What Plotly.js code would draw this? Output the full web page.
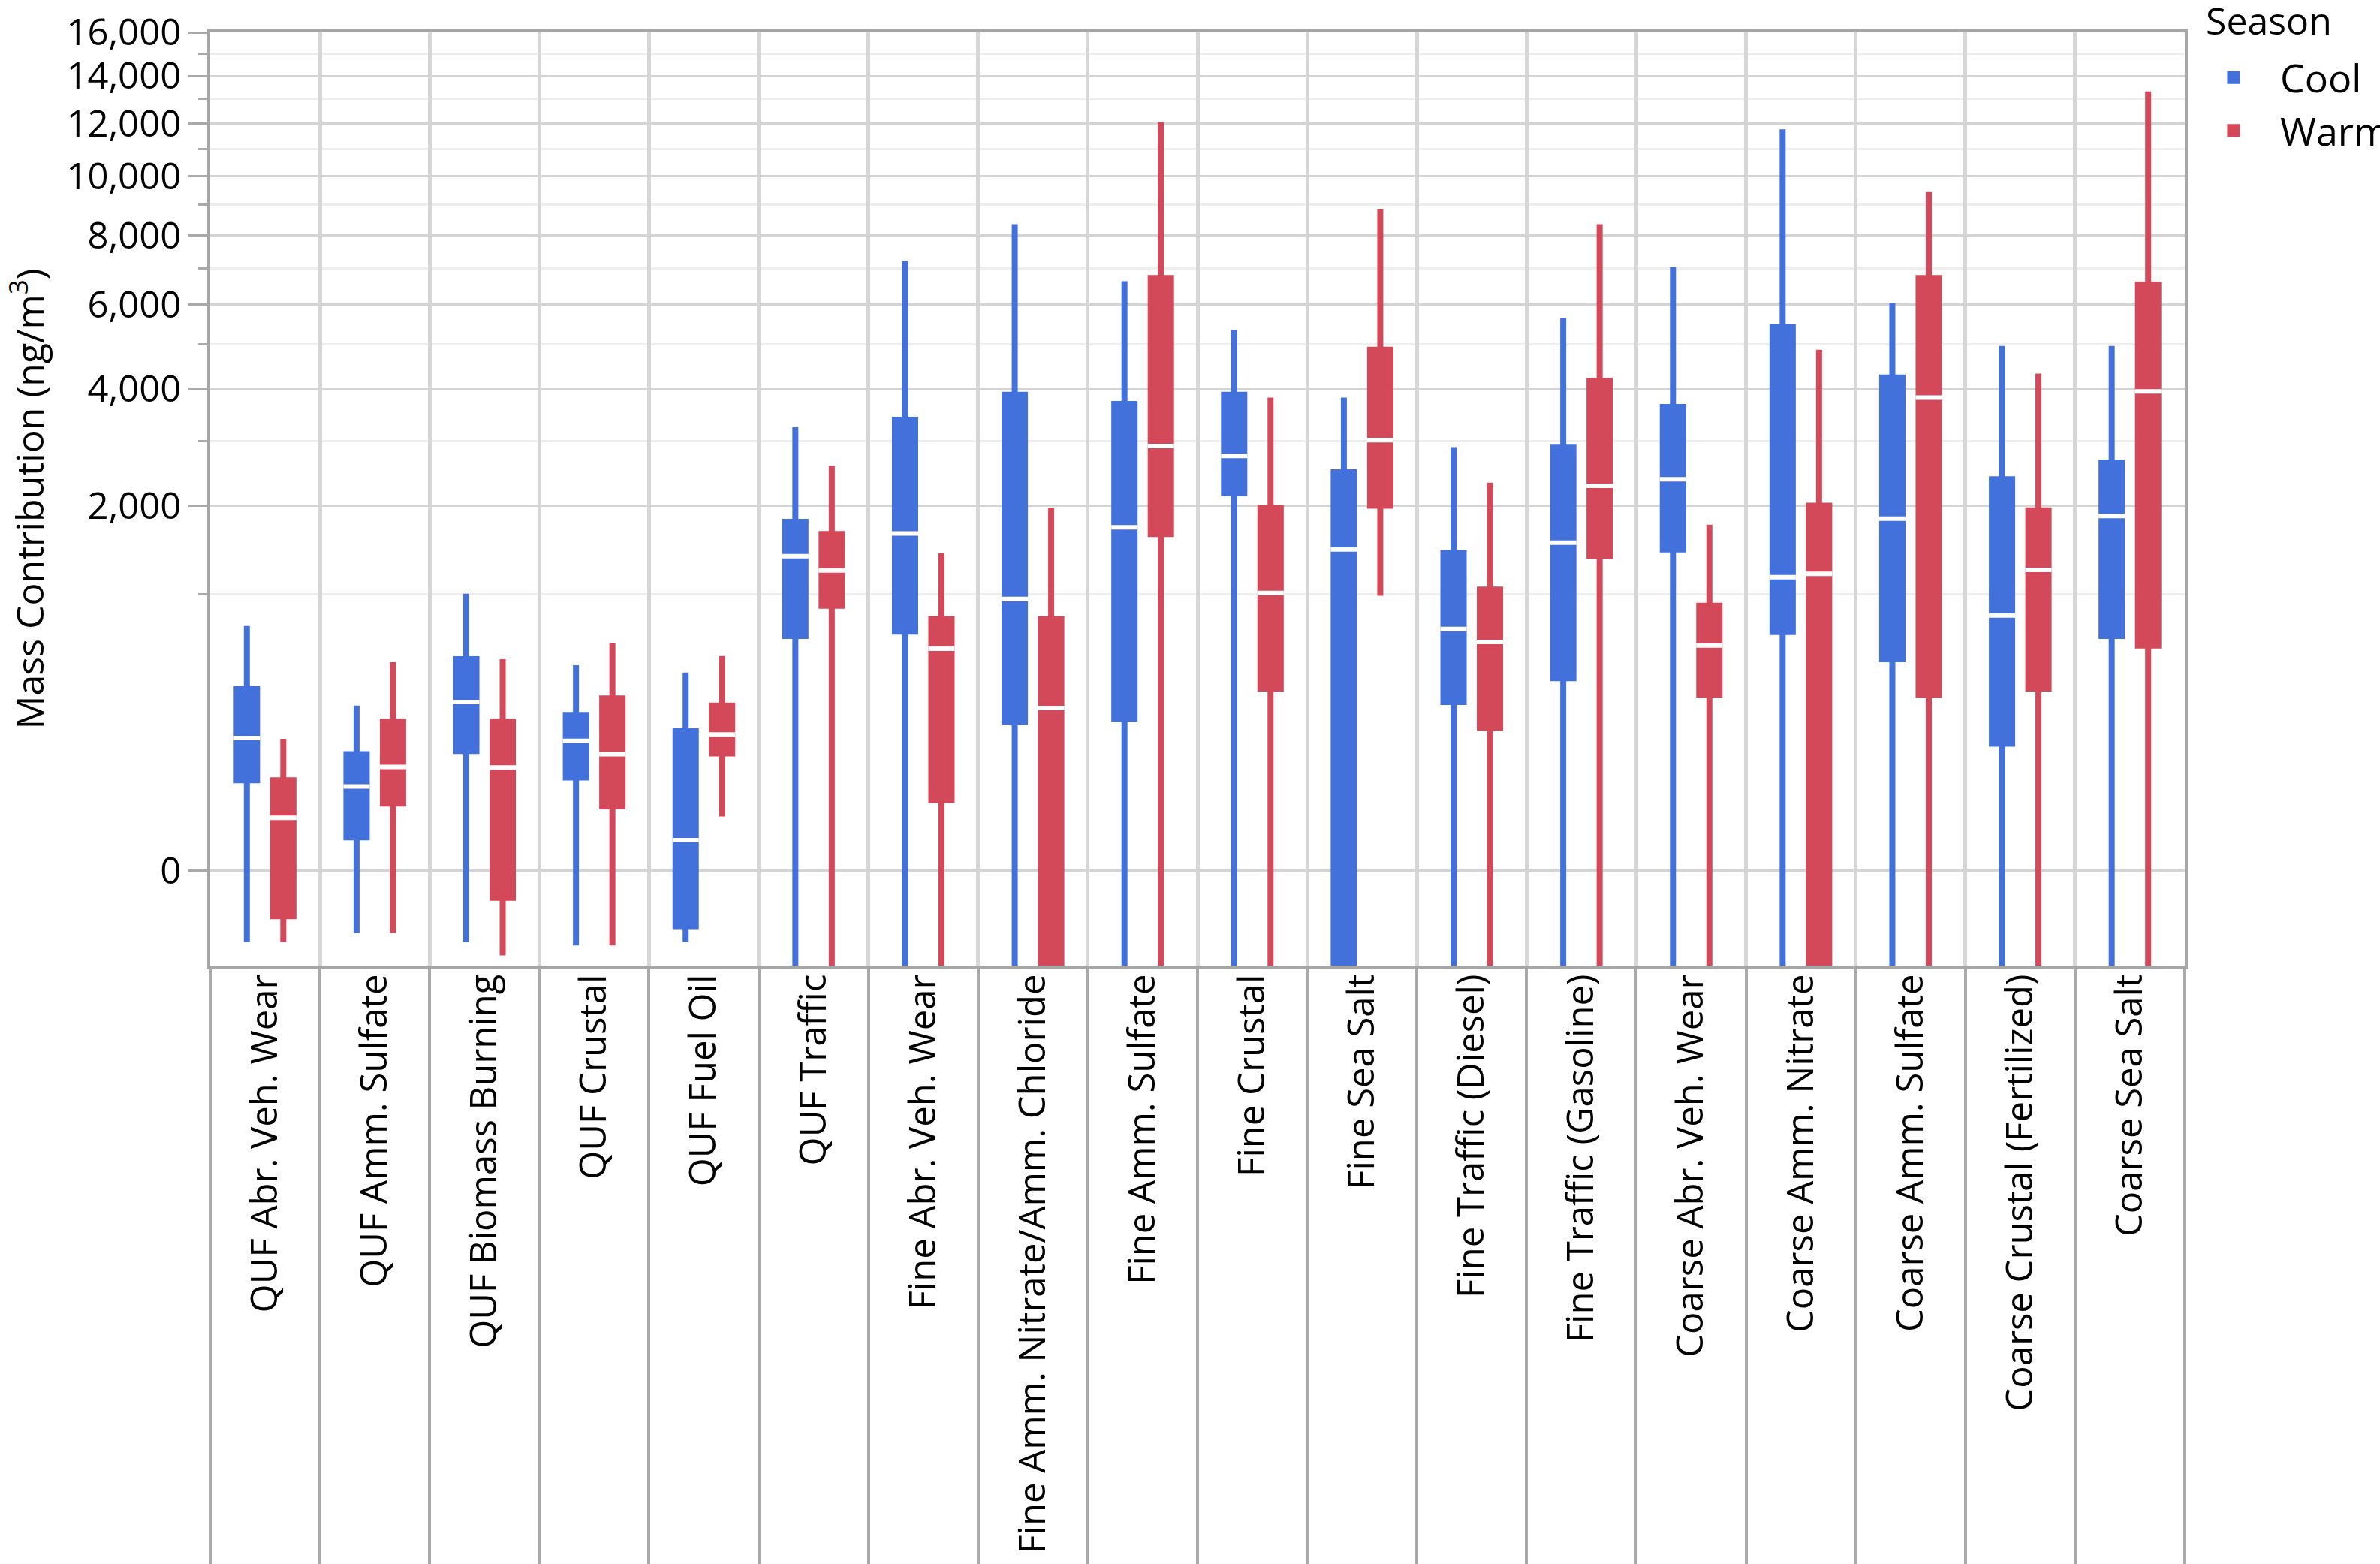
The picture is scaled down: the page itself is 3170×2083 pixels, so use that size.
<!DOCTYPE html>
<html>
<head>
<meta charset="utf-8">
<script src="https://cdn.plot.ly/plotly-3.0.1.min.js"></script>
<style>html,body{margin:0;padding:0;background:#fff;}#chart{width:3170px;height:2083px;}</style>
</head>
<body>
<div id="chart"></div>
<script>
const categories = ["QUF Abr. Veh. Wear","QUF Amm. Sulfate","QUF Biomass Burning","QUF Crustal","QUF Fuel Oil","QUF Traffic","Fine Abr. Veh. Wear","Fine Amm. Nitrate/Amm. Chloride","Fine Amm. Sulfate","Fine Crustal","Fine Sea Salt","Fine Traffic (Diesel)","Fine Traffic (Gasoline)","Coarse Abr. Veh. Wear","Coarse Amm. Nitrate","Coarse Amm. Sulfate","Coarse Crustal (Fertilized)","Coarse Sea Salt"];

const coolLower  = [-34, -24, -34, -38, -34, -100, -100, -100, -100, -100, -100, -100, -100, -100, -100, -100, -100, -100];
const coolQ1     = [61, 5, 123, 66, -18, 664, 695, 213, 224, 2176, -80, 290, 404, 1455, 691, 511, 143, 664];
const coolMedian = [159, 51, 290, 151, 4, 1379, 1641, 956, 1717, 2755, 1455, 713, 1531, 2382, 1159, 1828, 817, 1862];
const coolQ3     = [349, 115, 511, 238, 180, 1786, 3395, 3884, 3698, 3884, 2490, 1414, 2892, 3640, 5408, 4246, 2382, 2647];
const coolUpper  = [736, 275, 1003, 475, 434, 3256, 7226, 8358, 6630, 5338, 3826, 2902, 5634, 7038, 11763, 6037, 4957, 4957];

const warmLower  = [-34, -24, -52, -38, 17, -100, -100, -100, -100, -100, 985, -100, -100, -100, -100, -100, -100, -100];
const warmQ1     = [-11, 29, -3, 26, 117, 898, 33, -80, 1634, 352, 2000, 192, 1386, 323, -64, 323, 352, 598];
const warmMedian = [16, 86, 85, 115, 170, 1228, 577, 265, 2922, 1010, 3023, 622, 2284, 598, 1193, 3826, 1234, 3953];
const warmQ3     = [61, 213, 213, 306, 275, 1634, 788, 788, 6722, 1972, 4870, 1041, 4174, 898, 2000, 6722, 1938, 6537];
const warmUpper  = [157, 493, 511, 617, 531, 2598, 1414, 1972, 12047, 3826, 8849, 2333, 8358, 1752, 4870, 9432, 4333, 13324];

const majorTicks = [0, 2000, 4000, 6000, 8000, 10000, 12000, 14000, 16000];
const minorTicks = [1000, 3000, 5000, 7000, 9000, 11000, 13000, 15000];
const axisMin = -69;
const axisMax = 16000;

const seasons = ["Cool", "Warm"];
const colors = {Cool: "#4371DB", Warm: "#D3495A"};

// power-scale transform of the value axis
const P = 0.4;
const tf = v => Math.sign(v) * Math.pow(Math.abs(v), P);
const T = arr => arr.map(tf);
const fmt = v => v.toLocaleString("en-US");

const stats = {
  Cool: {lower: coolLower, q1: coolQ1, median: coolMedian, q3: coolQ3, upper: coolUpper},
  Warm: {lower: warmLower, q1: warmQ1, median: warmMedian, q3: warmQ3, upper: warmUpper}
};

const traces = [];
seasons.forEach(s => {
  const d = stats[s];
  traces.push({
    type: "box", name: s, x: categories,
    lowerfence: T(d.lower), q1: T(d.q1), median: T(d.median), q3: T(d.q3), upperfence: T(d.upper),
    boxpoints: false, whiskerwidth: 0,
    line: {color: colors[s], width: 8}, fillcolor: colors[s],
    alignmentgroup: "a", offsetgroup: s, hoverinfo: "skip"
  });
});
seasons.forEach(s => {
  const d = stats[s];
  traces.push({
    type: "scatter", mode: "markers", name: s + " median", x: categories, y: T(d.median),
    showlegend: false,
    marker: {symbol: "line-ew", size: 25, color: "#ffffff", line: {color: "#ffffff", width: 6}},
    alignmentgroup: "a", offsetgroup: s, hoverinfo: "skip"
  });
});

const FONT = "Open Sans, Noto Sans, sans-serif";
const layout = {
  width: 3170, height: 2083,
  margin: {l: 280, r: 260, t: 43, b: 797},
  paper_bgcolor: "#ffffff", plot_bgcolor: "#ffffff",
  font: {family: FONT, color: "#000000", size: 50},
  boxmode: "group", boxgap: 0.336, boxgroupgap: 0.443,
  scattermode: "group", scattergap: 0.336,
  showlegend: true,
  legend: {
    xref: "container", yref: "container",
    x: 0.9189, xanchor: "left", y: 0.9698, yanchor: "top",
    itemwidth: 114,
    font: {size: 52}, bgcolor: "rgba(0,0,0,0)", traceorder: "normal"
  },
  annotations: [{
    text: "Season", xref: "paper", yref: "paper", x: 1.0099, xanchor: "left",
    y: 1.0129, yanchor: "middle", showarrow: false, font: {size: 50, family: FONT}
  }],
  xaxis: {
    type: "category", range: [-0.5, categories.length - 0.5],
    tickson: "boundaries", ticks: "outside", ticklen: 797, tickwidth: 4, tickcolor: "#a9a9a9",
    showgrid: true, gridcolor: "#d6d6d6", gridwidth: 5,
    showline: true, linecolor: "#a6a6a6", linewidth: 4, mirror: true,
    tickangle: -90, tickfont: {size: 49, family: FONT}, ticklabelstandoff: -12,
    zeroline: false, fixedrange: true
  },
  yaxis: {
    range: [tf(axisMin), tf(axisMax)],
    tickmode: "array", tickvals: T(majorTicks), ticktext: majorTicks.map(fmt),
    ticks: "outside", ticklen: 25, tickwidth: 3, tickcolor: "#a9a9a9",
    showgrid: true, gridcolor: "#d4d4d4", gridwidth: 3,
    minor: {tickmode: "array", tickvals: T(minorTicks), ticks: "outside", ticklen: 12, tickwidth: 3,
            tickcolor: "#a9a9a9", showgrid: true, gridcolor: "#eeeeee", gridwidth: 3},
    showline: true, linecolor: "#a6a6a6", linewidth: 4, mirror: true,
    zeroline: false, tickfont: {size: 49, family: FONT},
    title: {text: "Mass Contribution (ng/m<sup>3</sup>)", font: {size: 50, family: FONT}, standoff: 52},
    fixedrange: true
  }
};

Plotly.newPlot("chart", traces, layout, {staticPlot: true, displayModeBar: false});
</script>
</body>
</html>
